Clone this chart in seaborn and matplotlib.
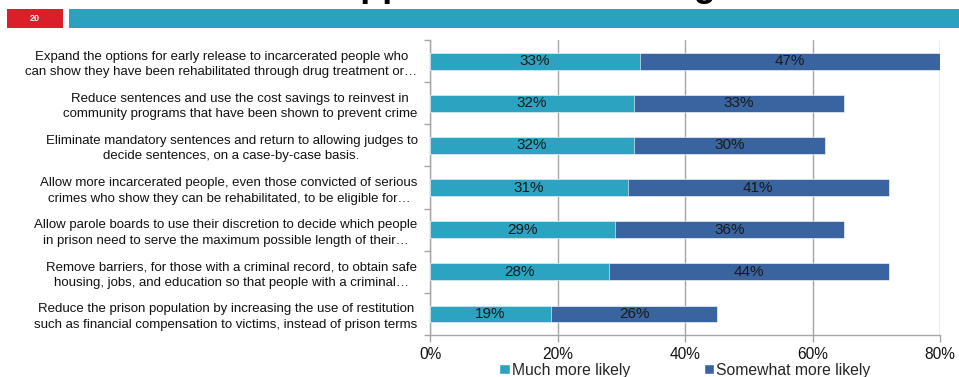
import matplotlib
matplotlib.use("Agg")
import matplotlib.pyplot as plt
from matplotlib.patches import Rectangle
from matplotlib.ticker import FixedLocator, PercentFormatter
import numpy as np
import pandas as pd
import seaborn as sns

# Survey items (row labels, top to bottom)
categories = [
    "Expand the options for early release to incarcerated people who\ncan show they have been rehabilitated through drug treatment or…",
    "Reduce sentences and use the cost savings to reinvest in\ncommunity programs that have been shown to prevent crime",
    "Eliminate mandatory sentences and return to allowing judges to\ndecide sentences, on a case-by-case basis.",
    "Allow more incarcerated people, even those convicted of serious\ncrimes who show they can be rehabilitated, to be eligible for…",
    "Allow parole boards to use their discretion to decide which people\nin prison need to serve the maximum possible length of their…",
    "Remove barriers, for those with a criminal record, to obtain safe\nhousing, jobs, and education so that people with a criminal…",
    "Reduce the prison population by increasing the use of restitution\nsuch as financial compensation to victims, instead of prison terms",
]
much_more_likely = [33, 32, 32, 31, 29, 28, 19]
somewhat_more_likely = [47, 33, 30, 41, 36, 44, 26]
series_names = ["Much more likely", "Somewhat more likely"]
x_ticks = [0, 20, 40, 60, 80]
page_number = "20"
title_text = "Support for Sentencing"

TEAL = "#2CA3C0"
BLUE = "#3A64A0"
GRID = "#A6A6A6"

sns.set_theme(style="white")
plt.rcParams["font.family"] = ["Liberation Sans", "DejaVu Sans"]

df = pd.DataFrame({
    "item": categories,
    "much": np.array(much_more_likely) / 100.0,
    "somewhat": np.array(somewhat_more_likely) / 100.0,
})
df["total"] = df["much"] + df["somewhat"]

fig = plt.figure(figsize=(9.59, 3.77), dpi=100)
ax = fig.add_axes([430 / 959, 1 - 335 / 377, 510 / 959, 295 / 377])

# Stacked horizontal bars: full length first, first segment drawn over it
sns.barplot(data=df, x="total", y="item", color=BLUE, width=0.4,
            saturation=1, ax=ax, zorder=3, errorbar=None)
sns.barplot(data=df, x="much", y="item", color=TEAL, width=0.4,
            saturation=1, ax=ax, zorder=3, errorbar=None)

for p in ax.patches:
    p.set_edgecolor("white")
    p.set_linewidth(0.4)

# Segment value labels
for i, row in df.iterrows():
    ax.text(row["much"] / 2, i, f"{round(row['much'] * 100)}%",
            ha="center", va="center", fontsize=11, color="#1a1a1a", zorder=4)
    ax.text(row["much"] + row["somewhat"] / 2, i,
            f"{round(row['somewhat'] * 100)}%",
            ha="center", va="center", fontsize=11, color="#1a1a1a", zorder=4)

ax.set_xlim(0, 0.8)
ax.set_ylim(6.5, -0.5)
ax.set_xlabel("")
ax.set_ylabel("")
ax.xaxis.set_major_locator(FixedLocator([t / 100 for t in x_ticks]))
ax.xaxis.set_major_formatter(PercentFormatter(1.0, decimals=0))
ax.grid(axis="x", color=GRID, linewidth=1, zorder=0)
ax.set_axisbelow(True)

for side in ("top", "right"):
    ax.spines[side].set_visible(False)
for side in ("left", "bottom"):
    ax.spines[side].set_color(GRID)
    ax.spines[side].set_linewidth(1)

ax.tick_params(axis="x", which="major", length=5, color=GRID, width=1,
               labelsize=11.2, labelcolor="#111111", pad=3.5, bottom=True)
ax.tick_params(axis="y", which="major", length=0, labelsize=9.5,
               labelcolor="#111111", pad=9)
ax.yaxis.set_minor_locator(FixedLocator(np.arange(-0.5, 7, 1.0)))
ax.tick_params(axis="y", which="minor", length=4, color=GRID, width=1, left=True)
for lbl in ax.get_yticklabels():
    lbl.set_multialignment("center")
    lbl.set_linespacing(1.4)

handles = [Rectangle((0, 0), 1, 1, facecolor=c) for c in (TEAL, BLUE)]
ax.legend(handles, series_names, loc="center", bbox_to_anchor=(0.5, -0.119),
          ncol=2, frameon=False, fontsize=11.3, handlelength=0.65,
          handleheight=0.65, handletextpad=0.15, columnspacing=4.7,
          borderaxespad=0, borderpad=0)

# Header band with page number
fig.patches.append(Rectangle((7 / 959, 1 - 28 / 377), 56 / 959, 19 / 377,
                             transform=fig.transFigure, facecolor="#DA1F2A",
                             edgecolor="none"))
fig.patches.append(Rectangle((69 / 959, 1 - 28 / 377), 890 / 959, 19 / 377,
                             transform=fig.transFigure, facecolor="#2CA1BE",
                             edgecolor="none"))
fig.text(35 / 959, 1 - 18.5 / 377, page_number, ha="center", va="center",
         fontsize=6.5, fontweight="bold", color="white")
fig.text(515 / 959, 1 + 4.5 / 377, title_text, ha="center", va="baseline",
         fontsize=26, fontweight="bold", color="black")

fig.savefig("out.png", dpi=100)
